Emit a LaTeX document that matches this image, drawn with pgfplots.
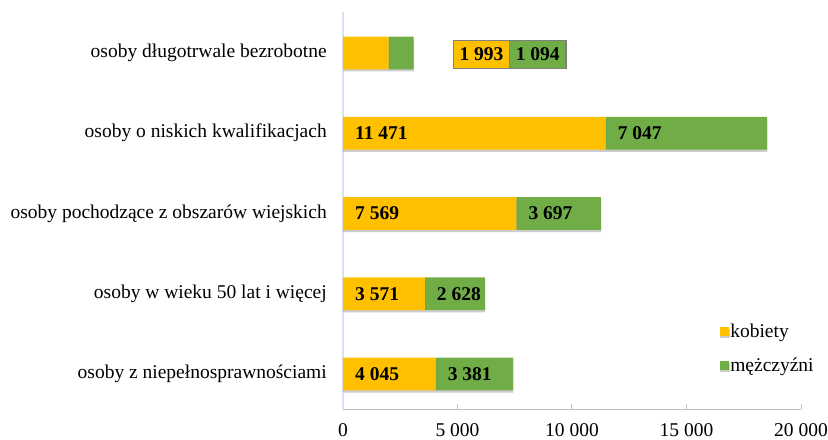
\documentclass[border=0pt]{standalone}
\usepackage{pgfplots}
\pgfplotsset{compat=1.18}
\usetikzlibrary{shadows}
\usepackage{fontspec}
\setmainfont{Liberation Serif}
\definecolor{kob}{HTML}{FFC000}
\definecolor{mez}{HTML}{70AD47}
\definecolor{yax}{HTML}{D9E2F3}
\definecolor{xax}{HTML}{BFBFBF}
\definecolor{boxgray}{HTML}{808080}
\newcommand{\fs}{\fontsize{19.5bp}{23bp}\selectfont}
\begin{document}
\begin{tikzpicture}
\begin{axis}[name=ax, scale only axis, width=458bp, height=397bp,
  xbar stacked, bar width=32.7bp, clip=false,
  xmin=0, xmax=20000, ymin=-0.436, ymax=4.51,
  axis lines*=left,
  x axis line style={draw=xax, line width=1bp},
  y axis line style={draw=yax, line width=1.2bp},
  xtick={0,5000,10000,15000,20000},
  xticklabels={0,5 000,10 000,15 000,20 000},
  xtick style={draw=xax, line width=1bp},
  tick align=inside, major tick length=5bp,
  ytick={0,1,2,3,4},
  yticklabels={osoby z niepełnosprawnościami, osoby w wieku 50 lat i więcej, osoby pochodzące z obszarów wiejskich, osoby o niskich kwalifikacjach, osoby długotrwale bezrobotne},
  ytick style={draw=none},
  xticklabel style={font=\fs, inner sep=0pt, anchor=north, yshift=-14bp},
  yticklabel style={font=\fs, inner sep=0pt, anchor=east, xshift=-16bp},
  legend style={at={(rel axis cs:0.822,0.217)}, anchor=north west, draw=none, fill=none,
    font=\fs, row sep=17bp, inner sep=0pt, nodes={inner sep=1bp}},
  legend cell align=left,
  legend image code/.code={\fill[#1, draw=none] (0bp,-4.6bp) rectangle (9.6bp,4.6bp);},
  shd/.style={drop shadow={shadow xshift=0.4bp, shadow yshift=-2.2bp, opacity=0.2, fill=black}},
]
\addplot[fill=kob, draw=none, shd] coordinates {(4045,0) (3571,1) (7569,2) (11471,3) (1993,4)};
\addplot[fill=mez, draw=none, shd] coordinates {(3381,0) (2628,1) (3697,2) (7047,3) (1094,4)};
\legend{kobiety, mężczyźni}
\coordinate (k0) at (axis cs:0,0);
\coordinate (m0) at (axis cs:4045,0);
\coordinate (k1) at (axis cs:0,1);
\coordinate (m1) at (axis cs:3571,1);
\coordinate (k2) at (axis cs:0,2);
\coordinate (m2) at (axis cs:7569,2);
\coordinate (k3) at (axis cs:0,3);
\coordinate (m3) at (axis cs:11471,3);
\coordinate (c1) at (axis cs:4790,3.985);
\coordinate (c2) at (axis cs:7249,3.985);
\end{axis}
\tikzset{lab/.style={anchor=west, inner sep=0pt, font=\fs\bfseries, xshift=12bp}}
\node[lab] at (k0) {4 045};
\node[lab] at (m0) {3 381};
\node[lab] at (k1) {3 571};
\node[lab] at (m1) {2 628};
\node[lab] at (k2) {7 569};
\node[lab] at (m2) {3 697};
\node[lab] at (k3) {11 471};
\node[lab] at (m3) {7 047};
\tikzset{cbox/.style={anchor=west, draw=boxgray, line width=1.2bp, font=\fs\bfseries, inner sep=0pt, minimum width=56.3bp, minimum height=28bp}}
\node[cbox, fill=kob] at (c1) {1 993};
\node[cbox, fill=mez] at (c2) {1 094};
\pgfresetboundingbox
\path[use as bounding box] ([shift={(-343bp,-31bp)}]ax.south west) rectangle ([shift={(485bp,409bp)}]ax.south west);
\end{tikzpicture}
\end{document}
